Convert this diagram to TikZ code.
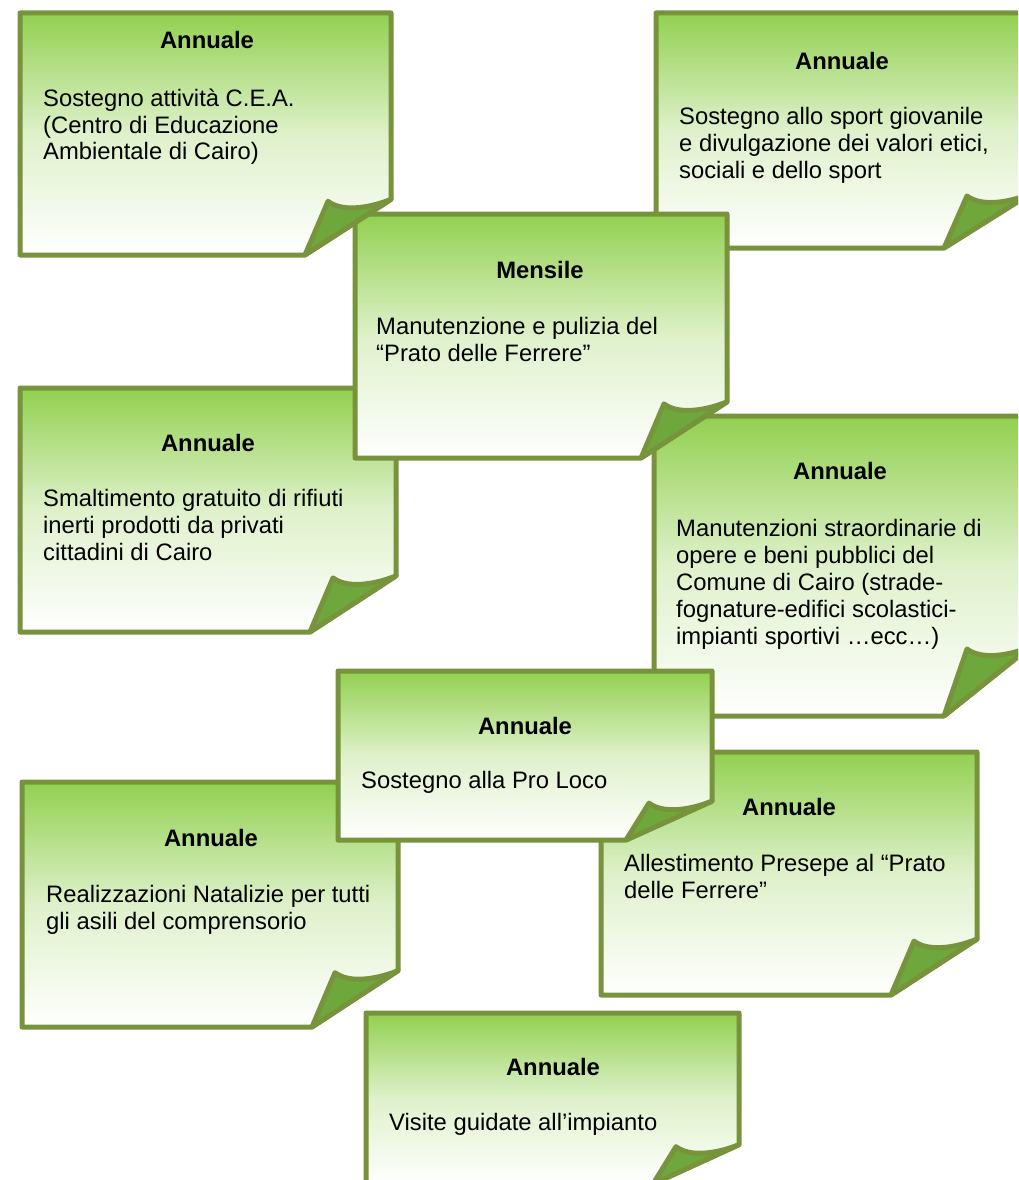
\documentclass[tikz,border=0pt]{standalone}
\usepackage{fontspec}
\setmainfont{Liberation Sans}
\definecolor{notegreen}{HTML}{92D050}
\definecolor{noteedge}{HTML}{77933C}
\definecolor{notefold}{HTML}{6EA83C}

\begin{document}
\begin{tikzpicture}[x=1pt, y=-1pt,
  note/.style={draw=noteedge, line width=5pt, line join=round, top color=notegreen, bottom color=white, middle color=notegreen!30},
  flap/.style={draw=noteedge, line width=5pt, line join=round, fill=notefold},
  head/.style={font=\bfseries\fontsize{23.8}{27}\selectfont, inner sep=0pt},
  body/.style={font=\fontsize{23.8}{27}\selectfont, align=left, anchor=base west, inner sep=0pt}]
\useasboundingbox (0,0) rectangle (1018,1180);
\clip (0,0) rectangle (1018,1180);
\foreach \l/\t/\r/\b in {656/13/1030/248, 654/416/1030/716, 20/388/396/632, 355/214/727/458, 20/13/391/255, 22/782/398/1027, 601/752/977/995, 338/671/712/840, 366/1013/739/1184}
{
  \pgfmathsetmacro\fy{0.23*(\b-\t)}
  \path[note] (\l,\t) -- (\r,\t) -- (\r,\b-\fy) -- (\r-86,\b) -- (\l,\b) -- cycle;
  \path[flap] (\r-86,\b) -- (\r-63,\b-\fy+2) .. controls (\r-50,\b-\fy+12) and (\r-25,\b-\fy+10) .. (\r,\b-\fy) -- cycle;
}

\node[head] (ta) at (207,40) {Annuale};
\node[body] (ba) at (43,160) {Sostegno attività C.E.A.\\(Centro di Educazione\\Ambientale di Cairo)};

\node[head] (tb) at (842,61) {Annuale};
\node[body] (bb) at (679,178) {Sostegno allo sport giovanile\\e divulgazione dei valori etici,\\sociali e dello sport};

\node[head] (tc) at (540,270) {Mensile};
\node[body] (bc) at (376,361) {Manutenzione e pulizia del\\“Prato delle Ferrere”};

\node[head] (td) at (208,443) {Annuale};
\node[body] (bd) at (43,560) {Smaltimento gratuito di rifiuti\\inerti prodotti da privati\\cittadini di Cairo};

\node[head] (te) at (840,471) {Annuale};
\node[body] (be) at (676,644) {Manutenzioni straordinarie di\\opere e beni pubblici del\\Comune di Cairo (strade-\\fognature-edifici scolastici-\\impianti sportivi …ecc…)};

\node[head] (tf) at (525,726) {Annuale};
\node[body] (bf) at (361,788) {Sostegno alla Pro Loco};

\node[head] (tg) at (211,838) {Annuale};
\node[body] (bg) at (46,929) {Realizzazioni Natalizie per tutti\\gli asili del comprensorio};

\node[head] (th) at (789,807) {Annuale};
\node[body] (bh) at (624,898) {Allestimento Presepe al “Prato\\delle Ferrere”};

\node[head] (ti) at (553,1067) {Annuale};
\node[body] (bi) at (389,1130) {Visite guidate all’impianto};
\end{tikzpicture}
\end{document}
